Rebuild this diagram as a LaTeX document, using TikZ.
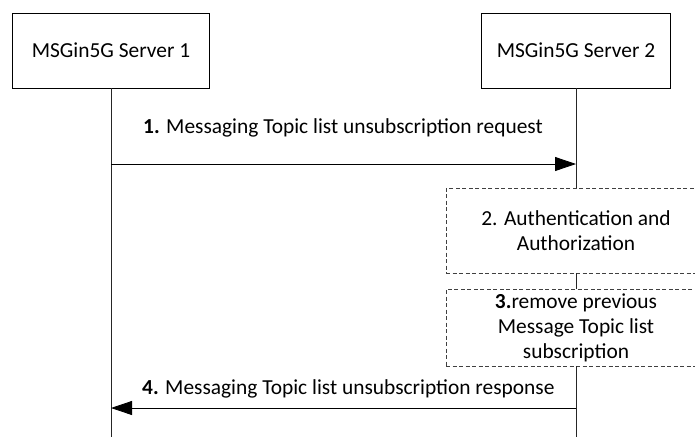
\documentclass[tikz,border=0pt]{standalone}
\usepackage{fontspec}
\setmainfont{Carlito}
\usetikzlibrary{arrows.meta,positioning}
\newcommand{\msgfont}{\fontsize{21.4}{25}\selectfont}

\begin{document}
\begin{tikzpicture}[x=1pt, y=-1pt,
    server/.style={draw, line width=0.8pt, minimum width=197pt, minimum height=75pt, inner sep=0pt, font=\msgfont},
    stepbox/.style={draw=black!75, dash pattern=on 4pt off 2.5pt, line width=0.8pt, minimum width=260pt, inner sep=0pt, align=center, font=\msgfont},
    lifeline/.style={line width=0.8pt, black!85},
    msg/.style={line width=0.8pt, -{Triangle[length=21pt, width=14pt]}},
    lbl/.style={anchor=base west, inner sep=0pt, font=\msgfont}]
  \path[use as bounding box, clip] (0,0) rectangle (695,439);

  % Servers
  \node[server] (srv1) at (111,50.5) {MSGin5G Server 1};
  \node[server, minimum width=189pt] (srv2) at (576,50.5) {MSGin5G Server 2};
  \coordinate (bottom) at (0,437);

  % Steps on server 2
  \node[stepbox, minimum height=85pt] (auth) at (576,230.5) {2. Authentication and\\Authorization};
  \node[stepbox, minimum height=77pt] (remove) at (576,327.5) {\textbf{3.}remove previous\\Message Topic list\\subscription};

  % Lifelines
  \draw[lifeline] (srv1.south) -- (srv1.south |- bottom);
  \draw[lifeline] (srv2.south) -- (auth.north);
  \draw[lifeline] (auth.south) -- (remove.north);
  \draw[lifeline] (remove.south) -- (srv2.south |- bottom);

  % Messages
  \coordinate (req) at (0,164);
  \coordinate (resp) at (0,408);
  \draw[msg] (srv1.south |- req) -- (srv2.south |- req);
  \node[lbl] (reqlbl) at (143,133) {\textbf{1.} Messaging Topic list unsubscription request};
  \draw[msg] (srv2.south |- resp) -- (srv1.south |- resp);
  \node[lbl] (resplbl) at (142,394) {\textbf{4.} Messaging Topic list unsubscription response};
\end{tikzpicture}
\end{document}
